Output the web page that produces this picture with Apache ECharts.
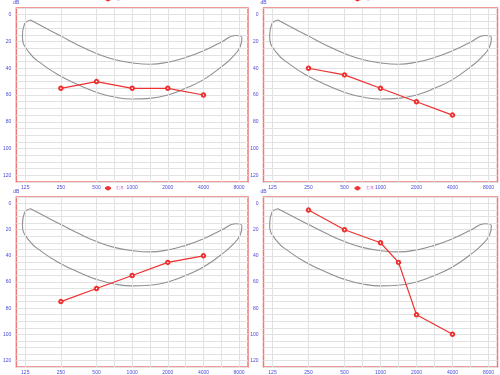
<!DOCTYPE html>
<html><head><meta charset="utf-8">
<script src="https://cdn.jsdelivr.net/npm/echarts@6/dist/echarts.min.js"></script>
<style>html,body{margin:0;padding:0;background:#fff}#c{width:500px;height:375px}</style>
</head><body><div id="c"></div>
<script>
// Frequency tick labels (Hz), placed at octave positions 0..6
var freqLabels = ['125','250','500','1000','2000','4000','8000'];
// Octave positions of tested frequencies
var posP1 = [1,2,3,4,5];
var posP2 = [1,2,3,4,5];
var posP3 = [1,2,3,4,5];
var posP4 = [1,2,3,3.5,4,5];
// Hearing thresholds (dB)
var dbP1 = [55,50,55,55,60];
var dbP2 = [40,45,55,65,75];
var dbP3 = [75,65,55,45,40];
var dbP4 = [5,20,30,45,85,100];
// Speech banana outline (octave position, dB)
var bananaX  = [0.15,0.5,1,1.5,2,2.5,3,3.5,4,4.5,5,5.5,5.9,6.08,6.03,5.8,5.5,5,4.5,4,3.5,3,2.5,2,1.5,1,0.5,0.1,-0.08,-0.02,0.15];
var bananaDb = [4,9,16,23,29,33.5,36,37,35.5,32,27,20.5,15.5,17,24,32,39,48.5,55,60,62.5,63,61.5,58,52.5,46,37.5,28,16,7,4];
// Half-octave grid lines above 500 Hz
var halfLines = [2.5,3.5,4.5,5.5];
var legendName = '右耳';

var panels = [
  {left:14, top:8, pos:posP1, db:dbP1, lgTop:-3},
  {left:263.5, top:8, pos:posP2, db:dbP2, lgTop:-3},
  {left:14, top:197, pos:posP3, db:dbP3, lgTop:186},
  {left:263.5, top:197, pos:posP4, db:dbP4, lgTop:186}
];
var W = 234, H = 174;
var chart = echarts.init(document.getElementById('c'), null, {renderer:'canvas'});
var grids=[], xAxes=[], yAxes=[], series=[], legends=[];
var vlines = [0,1,2,3,4,5,6].concat(halfLines);
panels.forEach(function(p,i){
  grids.push({left:p.left, top:p.top, width:W, height:H, show:true, borderColor:'#f07878', borderWidth:1.5, backgroundColor:'#fff'});
  xAxes.push({type:'value', gridIndex:i, min:-0.25, max:6.25, position:'bottom',
    axisLine:{show:false}, axisTick:{show:false}, splitLine:{show:false},
    axisLabel:{customValues:[0,1,2,3,4,5,6], color:'#4a4ad8', fontSize:5, margin:3,
      formatter:function(v){var k=Math.round(v);return freqLabels[k]||'';}}});
  yAxes.push({type:'value', gridIndex:i, min:-5, max:125, interval:5, inverse:true,
    name:'dB', nameLocation:'start', nameGap:3, nameTextStyle:{color:'#4a4ad8', fontSize:5, align:'right', padding:[0,6,0,0]},
    axisLine:{show:false}, axisTick:{show:false},
    splitLine:{show:true, lineStyle:{color:'#e2e2e2', width:1}},
    axisLabel:{color:'#4a4ad8', fontSize:5, margin:5,
      formatter:function(v){return (v%20===0 && v>=0)? String(v):'';}}});
  var bdata = bananaX.map(function(x,k){return [x,bananaDb[k]];});
  series.push({type:'line', xAxisIndex:i, yAxisIndex:i, data:bdata, smooth:0.5, symbol:'none', silent:true,
    lineStyle:{color:'#909090', width:1.1}, z:3,
    markLine:{silent:true, symbol:'none', label:{show:false}, lineStyle:{color:'#e2e2e2', width:1, type:'solid'},
      data: vlines.map(function(v){return {xAxis:v};})}});
  series.push({type:'line', name:legendName, xAxisIndex:i, yAxisIndex:i,
    data:p.pos.map(function(x,k){return [x,p.db[k]];}),
    symbol:'emptyCircle', symbolSize:3.5, lineStyle:{color:'#ee3030', width:1.2},
    itemStyle:{color:'#ee3030', borderColor:'#ee3030', borderWidth:0.8}, z:5});
  legends.push({show:true, left:p.left+90, top:p.lgTop, padding:0, itemWidth:6, itemHeight:3, itemGap:2,
    textStyle:{color:'#cc55cc', fontSize:4}, data:[legendName]});
});
chart.setOption({animation:false, backgroundColor:'#fff', grid:grids, xAxis:xAxes, yAxis:yAxes, series:series, legend:legends});
</script></body></html>
